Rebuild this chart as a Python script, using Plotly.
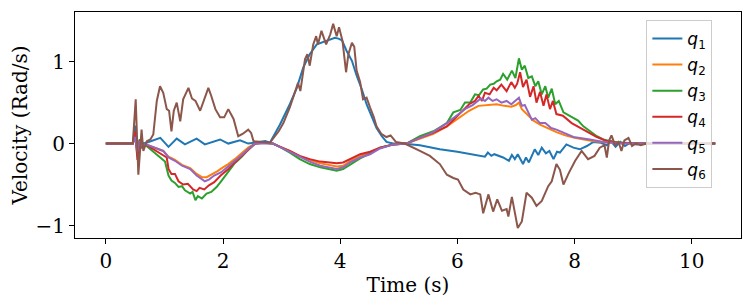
import plotly.graph_objects as go

# ---- data (time in s, velocity in rad/s) ----
t1 = [0, 0.46, 0.50, 0.54, 0.58, 0.64, 0.73, 0.93, 1.07, 1.21,
      1.35, 1.55, 1.69, 1.82, 1.95, 2.09, 2.29, 2.43, 2.60, 2.72,
      2.80, 2.97, 3.14, 3.26, 3.37, 3.48, 3.60, 3.72, 3.83, 3.91,
      3.97, 4.03, 4.11, 4.20, 4.28, 4.37, 4.45, 4.54, 4.62, 4.71,
      4.79, 4.90, 5.06, 5.36, 5.70, 6.00, 6.25, 6.39, 6.47, 6.52,
      6.58, 6.63, 6.70, 6.78, 6.88, 6.93, 6.98, 7.03, 7.12, 7.17,
      7.22, 7.32, 7.38, 7.44, 7.51, 7.57, 7.64, 7.70, 7.75, 7.86,
      7.98, 8.09, 8.21, 8.32, 8.45, 8.55, 8.62, 8.70, 8.78, 8.86,
      8.95, 9.05, 9.20, 10.4]
q1 = [0, 0, 0.22, -0.08, 0.05, 0.0, 0.02, 0.07, -0.04, 0.06,
      -0.01, 0.06, -0.01, 0.02, 0.05, 0.0, 0.04, 0.0, 0.02, 0.03,
      0.01, 0.23, 0.48, 0.68, 0.93, 1.09, 1.21, 1.24, 1.27, 1.29,
      1.28, 1.26, 1.13, 1.01, 0.83, 0.66, 0.48, 0.32, 0.19, 0.09,
      0.02, 0.0, 0.0, -0.02, -0.07, -0.10, -0.13, -0.15, -0.16, -0.11,
      -0.15, -0.13, -0.15, -0.17, -0.21, -0.14, -0.19, -0.13, -0.25, -0.17,
      -0.23, -0.07, -0.14, -0.05, -0.12, -0.09, -0.19, -0.10, -0.11, -0.01,
      -0.05, -0.07, -0.03, 0.02, 0.01, -0.02, 0.03, -0.04, 0.02, -0.03,
      0.01, -0.01, 0.0, 0.0]

t2 = [0, 0.46, 0.50, 0.54, 0.58, 0.62, 0.68, 0.84, 0.98, 1.07,
      1.18, 1.30, 1.44, 1.55, 1.64, 1.72, 1.80, 1.90, 2.00, 2.09,
      2.20, 2.32, 2.43, 2.55, 2.70, 2.85, 2.97, 3.14, 3.31, 3.48,
      3.66, 3.80, 3.94, 4.05, 4.17, 4.34, 4.51, 4.68, 4.91, 5.13,
      5.36, 5.59, 5.82, 6.05, 6.20, 6.36, 6.50, 6.67, 6.80, 6.92,
      7.00, 7.05, 7.10, 7.21, 7.30, 7.41, 7.55, 7.69, 7.84, 8.00,
      8.30, 8.60, 10.4]
q2 = [0, 0, 0.06, -0.08, 0.02, -0.03, -0.01, -0.05, -0.09, -0.16,
      -0.20, -0.26, -0.30, -0.37, -0.41, -0.41, -0.38, -0.34, -0.29, -0.25,
      -0.19, -0.12, -0.05, 0.0, 0.01, 0.0, -0.04, -0.09, -0.16, -0.20,
      -0.24, -0.26, -0.28, -0.27, -0.21, -0.15, -0.11, -0.05, -0.01, 0.0,
      0.06, 0.12, 0.21, 0.32, 0.40, 0.46, 0.47, 0.48, 0.46, 0.45,
      0.47, 0.50, 0.42, 0.34, 0.28, 0.23, 0.18, 0.14, 0.10, 0.07,
      0.03, 0.01, 0.0]

t3 = [0, 0.46, 0.50, 0.54, 0.58, 0.62, 0.68, 0.84, 0.93, 1.01,
      1.07, 1.12, 1.18, 1.24, 1.30, 1.35, 1.44, 1.48, 1.53, 1.57,
      1.64, 1.72, 1.80, 1.89, 1.98, 2.09, 2.20, 2.32, 2.43, 2.55,
      2.70, 2.85, 2.97, 3.14, 3.31, 3.48, 3.66, 3.80, 3.94, 4.05,
      4.17, 4.34, 4.51, 4.68, 4.91, 5.13, 5.36, 5.59, 5.82, 5.93,
      6.05, 6.13, 6.22, 6.30, 6.37, 6.44, 6.50, 6.56, 6.62, 6.67,
      6.73, 6.78, 6.85, 6.93, 6.99, 7.05, 7.10, 7.15, 7.21, 7.27,
      7.33, 7.38, 7.44, 7.50, 7.55, 7.61, 7.67, 7.73, 7.81, 7.95,
      8.06, 8.15, 8.27, 8.38, 8.49, 8.66, 8.85, 9.10, 10.4]
q3 = [0, 0, 0.12, -0.15, 0.05, -0.05, -0.02, -0.12, -0.17, -0.22,
      -0.39, -0.45, -0.48, -0.53, -0.52, -0.57, -0.61, -0.59, -0.69, -0.64,
      -0.67, -0.61, -0.59, -0.53, -0.45, -0.35, -0.24, -0.16, -0.07, 0.0,
      0.01, 0.0, -0.04, -0.11, -0.19, -0.25, -0.29, -0.31, -0.33, -0.31,
      -0.26, -0.18, -0.12, -0.05, -0.01, 0.0, 0.09, 0.15, 0.25, 0.38,
      0.41, 0.50, 0.50, 0.60, 0.59, 0.66, 0.67, 0.72, 0.73, 0.76,
      0.78, 0.85, 0.78, 0.89, 0.80, 1.04, 0.90, 0.95, 0.80, 0.82,
      0.70, 0.76, 0.60, 0.70, 0.56, 0.67, 0.48, 0.52, 0.38, 0.32,
      0.28, 0.21, 0.15, 0.09, 0.05, 0.02, 0.01, 0.0, 0.0]

t4 = [0, 0.46, 0.50, 0.54, 0.58, 0.62, 0.68, 0.84, 0.95, 1.04,
      1.07, 1.12, 1.18, 1.24, 1.32, 1.40, 1.49, 1.55, 1.60, 1.68,
      1.76, 1.85, 1.96, 2.09, 2.20, 2.32, 2.43, 2.55, 2.70, 2.85,
      2.97, 3.14, 3.31, 3.48, 3.66, 3.80, 3.94, 4.05, 4.17, 4.34,
      4.51, 4.68, 4.91, 5.13, 5.36, 5.59, 5.82, 6.05, 6.20, 6.30,
      6.36, 6.42, 6.47, 6.55, 6.62, 6.67, 6.75, 6.84, 6.92, 6.98,
      7.02, 7.07, 7.12, 7.18, 7.24, 7.30, 7.35, 7.41, 7.47, 7.52,
      7.58, 7.63, 7.69, 7.80, 7.95, 8.15, 8.38, 8.55, 8.75, 9.00,
      10.4]
q4 = [0, 0, 0.15, -0.20, 0.04, -0.04, -0.01, -0.08, -0.13, -0.17,
      -0.31, -0.37, -0.37, -0.46, -0.50, -0.49, -0.56, -0.58, -0.54, -0.56,
      -0.51, -0.47, -0.39, -0.31, -0.23, -0.15, -0.07, 0.0, 0.01, 0.0,
      -0.04, -0.09, -0.15, -0.19, -0.22, -0.23, -0.24, -0.23, -0.19, -0.13,
      -0.10, -0.05, -0.01, 0.0, 0.07, 0.13, 0.21, 0.38, 0.48, 0.52,
      0.58, 0.52, 0.62, 0.60, 0.68, 0.65, 0.72, 0.64, 0.75, 0.68,
      0.73, 0.87, 0.69, 0.78, 0.57, 0.70, 0.50, 0.63, 0.46, 0.60,
      0.42, 0.52, 0.36, 0.34, 0.25, 0.17, 0.08, 0.03, 0.01, 0.0,
      0.0]

t5 = [0, 0.46, 0.50, 0.54, 0.58, 0.62, 0.68, 0.84, 0.98, 1.07,
      1.18, 1.30, 1.44, 1.55, 1.64, 1.69, 1.76, 1.85, 1.97, 2.09,
      2.20, 2.32, 2.43, 2.55, 2.70, 2.85, 2.97, 3.14, 3.31, 3.48,
      3.66, 3.80, 3.94, 4.05, 4.17, 4.34, 4.51, 4.68, 4.91, 5.13,
      5.36, 5.59, 5.82, 6.05, 6.15, 6.26, 6.36, 6.40, 6.47, 6.53,
      6.60, 6.67, 6.75, 6.84, 6.92, 6.99, 7.05, 7.10, 7.15, 7.21,
      7.27, 7.33, 7.41, 7.50, 7.60, 7.69, 7.81, 7.98, 8.26, 8.49,
      8.80, 10.4]
q5 = [0, 0, 0.08, -0.10, 0.03, -0.03, -0.01, -0.05, -0.09, -0.17,
      -0.21, -0.27, -0.31, -0.39, -0.44, -0.46, -0.44, -0.39, -0.35, -0.28,
      -0.22, -0.14, -0.07, 0.0, 0.0, 0.0, -0.04, -0.10, -0.17, -0.22,
      -0.27, -0.29, -0.31, -0.29, -0.23, -0.17, -0.13, -0.06, -0.01, 0.0,
      0.07, 0.14, 0.25, 0.38, 0.43, 0.47, 0.52, 0.55, 0.52, 0.56,
      0.52, 0.54, 0.50, 0.52, 0.48, 0.52, 0.56, 0.46, 0.47, 0.38,
      0.29, 0.31, 0.25, 0.25, 0.19, 0.17, 0.13, 0.08, 0.05, 0.02,
      0.0, 0.0]

t6 = [0, 0.46, 0.51, 0.555, 0.61, 0.64, 0.70, 0.76, 0.81, 0.87,
      0.925, 0.98, 1.04, 1.08, 1.12, 1.16, 1.21, 1.27, 1.32, 1.41,
      1.47, 1.53, 1.61, 1.66, 1.75, 1.80, 1.87, 1.95, 2.02, 2.09,
      2.18, 2.26, 2.34, 2.43, 2.48, 2.52, 2.65, 2.80, 2.95, 3.03,
      3.14, 3.23, 3.28, 3.32, 3.40, 3.44, 3.48, 3.54, 3.59, 3.62,
      3.68, 3.76, 3.83, 3.88, 3.94, 3.98, 4.04, 4.10, 4.14, 4.20,
      4.24, 4.28, 4.34, 4.39, 4.45, 4.51, 4.57, 4.62, 4.70, 4.79,
      4.86, 4.95, 5.10, 5.36, 5.53, 5.70, 5.82, 5.93, 6.01, 6.10,
      6.22, 6.31, 6.39, 6.44, 6.53, 6.61, 6.68, 6.76, 6.84, 6.87,
      6.93, 6.98, 7.03, 7.10, 7.18, 7.27, 7.35, 7.44, 7.55, 7.61,
      7.69, 7.75, 7.81, 7.90, 8.01, 8.12, 8.23, 8.34, 8.43, 8.51,
      8.55, 8.59, 8.63, 8.69, 8.75, 8.80, 8.85, 8.92, 8.98, 9.04,
      9.13, 9.23, 9.40, 10.4]
q6 = [0, 0, 0.54, -0.38, 0.17, -0.09, 0.03, 0.05, 0.11, 0.52,
      0.70, 0.62, 0.42, 0.40, 0.15, 0.40, 0.50, 0.27, 0.54, 0.68,
      0.55, 0.52, 0.40, 0.50, 0.68, 0.58, 0.42, 0.32, 0.32, 0.42,
      0.30, 0.09, 0.12, 0.17, 0.13, 0.03, 0.02, 0.01, 0.15, 0.25,
      0.44, 0.62, 0.74, 0.64, 1.03, 1.09, 0.95, 1.21, 1.31, 1.21,
      1.375, 1.21, 1.33, 1.46, 1.31, 1.42, 1.25, 0.87, 1.09, 1.23,
      1.18, 0.89, 0.75, 0.54, 0.56, 0.44, 0.33, 0.21, 0.12, 0.08,
      0.10, 0.02, 0.0, -0.09, -0.15, -0.25, -0.38, -0.42, -0.44, -0.56,
      -0.62, -0.60, -0.62, -0.85, -0.62, -0.83, -0.68, -0.82, -0.80, -0.89,
      -0.65, -0.84, -1.03, -0.95, -0.60, -0.66, -0.76, -0.70, -0.52, -0.46,
      -0.25, -0.32, -0.50, -0.36, -0.21, -0.09, -0.19, -0.15, -0.05, -0.02,
      -0.17, 0.04, 0.10, -0.02, 0.02, -0.09, 0.04, 0.07, -0.03, 0.0,
      -0.02, 0.0, 0.0, 0.0]

names = ["<i>q</i><sub>1</sub>", "<i>q</i><sub>2</sub>", "<i>q</i><sub>3</sub>",
         "<i>q</i><sub>4</sub>", "<i>q</i><sub>5</sub>", "<i>q</i><sub>6</sub>"]
colors = ["#1f77b4", "#ff7f0e", "#2ca02c", "#d62728", "#9467bd", "#8c564b"]
xticks = [0, 2, 4, 6, 8, 10]
yticks = [-1, 0, 1]
ytick_text = ["\u22121", "0", "1"]

series = [(t1, q1), (t2, q2), (t3, q3), (t4, q4), (t5, q5), (t6, q6)]
for tt, qq in series:
    assert len(tt) == len(qq), (len(tt), len(qq))

fig = go.Figure()
for i, (tt, qq) in enumerate(series):
    fig.add_trace(go.Scatter(x=tt, y=qq, mode="lines", name=names[i],
                             legendgroup=str(i),
                             line=dict(color=colors[i], width=2)))

serif = "DejaVu Serif"
axis_common = dict(showline=True, linecolor="black", linewidth=1, mirror=True,
                   ticks="outside", ticklen=5, tickcolor="black", tickwidth=1,
                   showgrid=False, zeroline=False, automargin=False,
                   tickfont=dict(family=serif, size=20, color="black"))
# the page body has an 8px default margin, so the figure is 8px smaller
fig.update_layout(
    width=742, height=292,
    margin=dict(l=67, r=9, t=4, b=62),
    paper_bgcolor="white", plot_bgcolor="white",
    xaxis=dict(range=[-0.526, 10.84], tickvals=xticks,
               title=dict(text="Time (s)", font=dict(family=serif, size=20, color="black"),
                          standoff=5),
               **axis_common),
    yaxis=dict(range=[-1.152, 1.605], tickvals=yticks, ticktext=ytick_text,
               title=dict(text="Velocity (Rad/s)", font=dict(family=serif, size=20, color="black"),
                          standoff=8),
               **axis_common),
    legend=dict(x=0.957, y=0.965, xanchor="right", yanchor="top",
                bgcolor="rgba(255,255,255,0.8)", bordercolor="#cccccc", borderwidth=1,
                font=dict(family="DejaVu Sans", size=17, color="black"),
                tracegroupgap=1),
    showlegend=True,
)
fig.write_html("out.html")
